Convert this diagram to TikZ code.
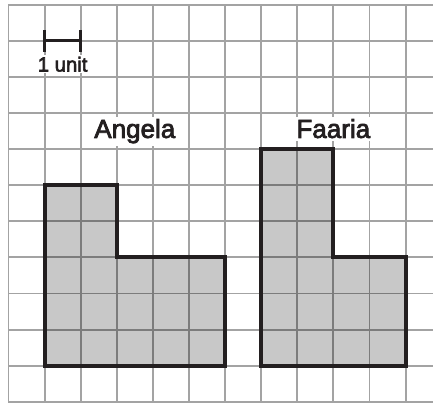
\documentclass[tikz,border=0pt]{standalone}
\usepackage{fontspec}
\setmainfont{Liberation Sans}
\newfontfamily\labelfont[FakeBold=3]{Liberation Sans}
\usepackage{tikz}
\usetikzlibrary{calc}
\definecolor{ink}{HTML}{231F20}
\definecolor{shade}{HTML}{C8C8C8}
\definecolor{rule}{HTML}{A3A3A3}
\definecolor{darkrule}{HTML}{7C7C7C}
\tikzset{
	gridline/.style={line width=1.5pt,draw=rule},
	outline/.style={line width=3.1pt,draw=ink,line join=miter},
	region/.style={fill=shade},
	name label/.style={fill=white,inner sep=2pt,anchor=base,text=ink,font=\labelfont\fontsize{20.5}{24}\selectfont},
	unit label/.style={fill=white,inner sep=1pt,anchor=base,text=ink,font=\labelfont\fontsize{16}{18}\selectfont}
}

\begin{document}
\begin{tikzpicture}
		\useasboundingbox (-0.235,-0.01) rectangle (11.76,11.13);
		% grid
		\foreach \x in {0,...,11}
			\draw[gridline] (\x,0)--(\x,11);
		\foreach \y in {0,...,11}
			\draw[gridline] (0,\y)--(11.8,\y);
		% the two shapes, with the grid showing through
		\begin{scope}
			\clip (1,1)--(6,1)--(6,4)--(3,4)--(3,6)--(1,6)--cycle
				(7,1)--(11,1)--(11,4)--(9,4)--(9,7)--(7,7)--cycle;
			\fill[region] (0,0) rectangle (12,12);
			\foreach \x in {0,...,11}
				\draw[gridline,darkrule] (\x,0)--(\x,11);
			\foreach \y in {0,...,11}
				\draw[gridline,darkrule] (0,\y)--(11.8,\y);
		\end{scope}
		\draw[outline] (1,1)--(6,1)--(6,4)--(3,4)--(3,6)--(1,6)--cycle;
		\draw[outline] (7,1)--(11,1)--(11,4)--(9,4)--(9,7)--(7,7)--cycle;
		% scale bar
		\coordinate (U1) at (1,10);
		\coordinate (U2) at (2,10);
		\draw[line width=2.4pt,ink] (U1)--(U2);
		\draw[line width=2.4pt,ink] ($(U1)+(0,-0.3)$)--($(U1)+(0,0.3)$);
		\draw[line width=2.4pt,ink] ($(U2)+(0,-0.3)$)--($(U2)+(0,0.3)$);
		\node[unit label] (unit) at (1.5,9.15) {1 unit};
		\node[name label] (angela) at (3.5,7.31) {Angela};
		\node[name label] (faaria) at (9,7.31) {Faaria};
	\end{tikzpicture}
\end{document}
